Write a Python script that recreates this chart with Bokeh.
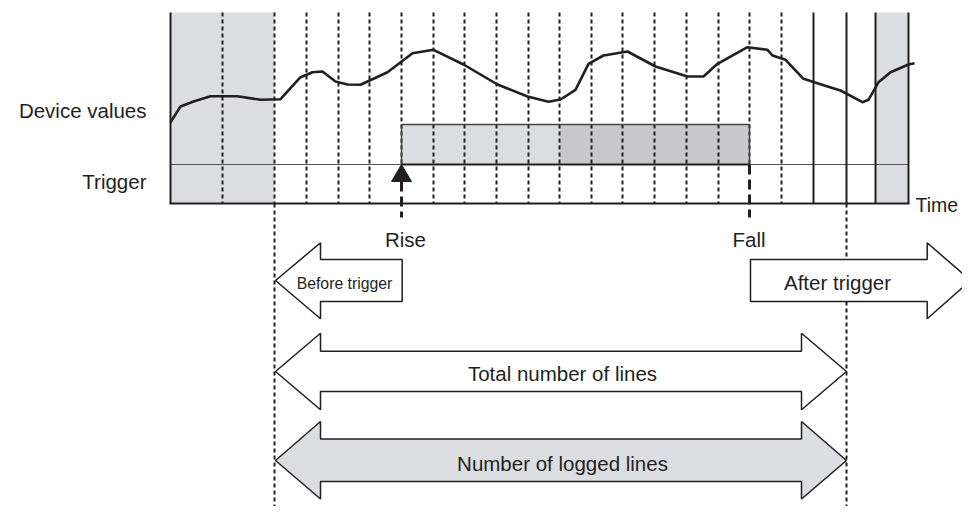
from bokeh.plotting import figure
from bokeh.models import Range1d
from bokeh.core.properties import value
from bokeh.embed import file_html
from bokeh.resources import INLINE

# ---- data (diagram coordinates, y grows downward) ----
# device value curve samples
curve_x = [170, 180, 193, 210, 237, 260, 280, 300, 312, 322, 335, 347, 360, 387, 412, 433,
           463, 497, 527, 548, 560, 575, 588, 603, 627, 655, 687, 703, 717, 747, 767, 772,
           785, 803, 827, 840, 862, 868, 878, 890, 908, 914]
curve_y = [121.7, 106, 101, 95.7, 95.7, 99.3, 98.7, 76.7, 71.7, 71, 81, 84, 84.3, 71.7, 52.7, 49.3,
           64, 84, 96, 101.3, 99, 89.3, 63.3, 55, 51, 66, 76, 76, 63.3, 46.7, 49.3, 55,
           59.3, 78.3, 86, 90, 101.7, 99.3, 81.7, 71.7, 64, 62.7]

# sampling lines
dotted_x = [222, 274, 306, 338, 369, 433, 464, 496, 528, 559, 591, 622, 654, 686, 718, 781]
edge_x = [401, 749]            # rise / fall sampling lines
solid_x = [170, 813, 846, 875, 908]
long_dotted_x = [274, 846]

# trigger signal
rise_x, fall_x, split_x = 401, 749, 559

TOP, BOT, BASE, HIGH = 12, 203, 164, 124

INK = "#231f20"
LIGHT = "#dcdde0"
DARK = "#c9c9cb"
FONT = value("Liberation Sans")

W, H = 962, 506
p = figure(width=W, height=H, x_range=Range1d(0, W), y_range=Range1d(H, 0),
           output_backend="svg", toolbar_location=None, x_axis_type=None, y_axis_type=None,
           min_border=0)
p.outline_line_color = None
p.xgrid.visible = False
p.ygrid.visible = False
p.background_fill_color = "white"

# gray regions
p.quad(left=[170, 875], right=[274, 908], top=[TOP, TOP], bottom=[BOT, BOT],
       fill_color=LIGHT, line_color=None)
# trigger box
p.quad(left=[rise_x, split_x], right=[split_x, fall_x], top=[HIGH, HIGH], bottom=[BASE, BASE],
       fill_color=[LIGHT, DARK], line_color=None)

# dotted sampling lines
p.segment(x0=dotted_x, y0=[TOP] * len(dotted_x), x1=dotted_x, y1=[BOT] * len(dotted_x),
          line_color=INK, line_width=2, line_dash="4 3")
p.segment(x0=edge_x, y0=[TOP] * 2, x1=edge_x, y1=[BASE] * 2,
          line_color=INK, line_width=2, line_dash="4 3")
p.segment(x0=long_dotted_x, y0=[BOT] * 2, x1=long_dotted_x, y1=[509] * 2,
          line_color=INK, line_width=2, line_dash="4 3")

# baseline of trigger
p.segment(x0=[170], y0=[BASE], x1=[908], y1=[BASE], line_color="#555555", line_width=1.2)
# trigger box outline
p.line(x=[rise_x, rise_x, fall_x, fall_x], y=[BASE, HIGH, HIGH, BASE], line_color="#444444", line_width=1.5)
p.segment(x0=[rise_x], y0=[BASE], x1=[fall_x], y1=[BASE], line_color=INK, line_width=2)

# solid frame lines
p.segment(x0=solid_x, y0=[TOP] * len(solid_x), x1=solid_x, y1=[BOT] * len(solid_x),
          line_color=INK, line_width=2)
p.segment(x0=[169], y0=[BOT], x1=[909], y1=[BOT], line_color=INK, line_width=2.2)

# curve
p.line(x=curve_x, y=curve_y, line_color=INK, line_width=2.6, line_join="round")

# rise / fall markers
p.patch(x=[rise_x, rise_x - 10, rise_x + 10], y=[BASE, 181, 181], fill_color=INK, line_color=INK)
p.segment(x0=[rise_x, fall_x], y0=[181, BASE], x1=[rise_x, fall_x], y1=[217, 217],
          line_color=INK, line_width=3, line_dash="10 5")

# block arrows
p.patch(x=[275, 320, 320, 401.7, 401.7, 320, 320], y=[280, 242.3, 259, 259, 301, 301, 318.3],
        fill_color="white", line_color=INK, line_width=1.5)
p.patch(x=[750, 926.7, 926.7, 970, 926.7, 926.7, 750], y=[259, 259, 242.3, 280, 318.3, 301, 301],
        fill_color="white", line_color=INK, line_width=1.5)
p.patch(x=[275, 320, 320, 801, 801, 846, 801, 801, 320, 320],
        y=[371, 332.7, 350.7, 350.7, 332.7, 371, 409.3, 391, 391, 409.3],
        fill_color="white", line_color=INK, line_width=1.5)
p.patch(x=[275, 320, 320, 801, 801, 846, 801, 801, 320, 320],
        y=[460, 421, 438.5, 438.5, 421, 460, 498.5, 481, 481, 498.5],
        fill_color=LIGHT, line_color=INK, line_width=1.5)

# texts
FS = value("20.5px")
p.text(x=[146, 146], y=[110, 181], text=["Device values", "Trigger"], text_font=FONT,
       text_font_size=FS, text_align="right", text_baseline="middle", text_color=INK)
p.text(x=[915], y=[204], text=["Time"], text_font=FONT,
       text_font_size=value("19.5px"), text_align="left", text_baseline="middle", text_color=INK)
p.text(x=[405, 748.5, 837, 562, 562], y=[239, 238.5, 282, 373, 463],
       text=["Rise", "Fall", "After trigger", "Total number of lines", "Number of logged lines"],
       text_font=FONT, text_font_size=FS, text_align="center", text_baseline="middle", text_color=INK)
p.text(x=[344], y=[282.5], text=["Before trigger"], text_font=FONT,
       text_font_size=value("15.8px"), text_align="center", text_baseline="middle", text_color=INK)

open("out.html", "w").write(file_html(p, INLINE))
